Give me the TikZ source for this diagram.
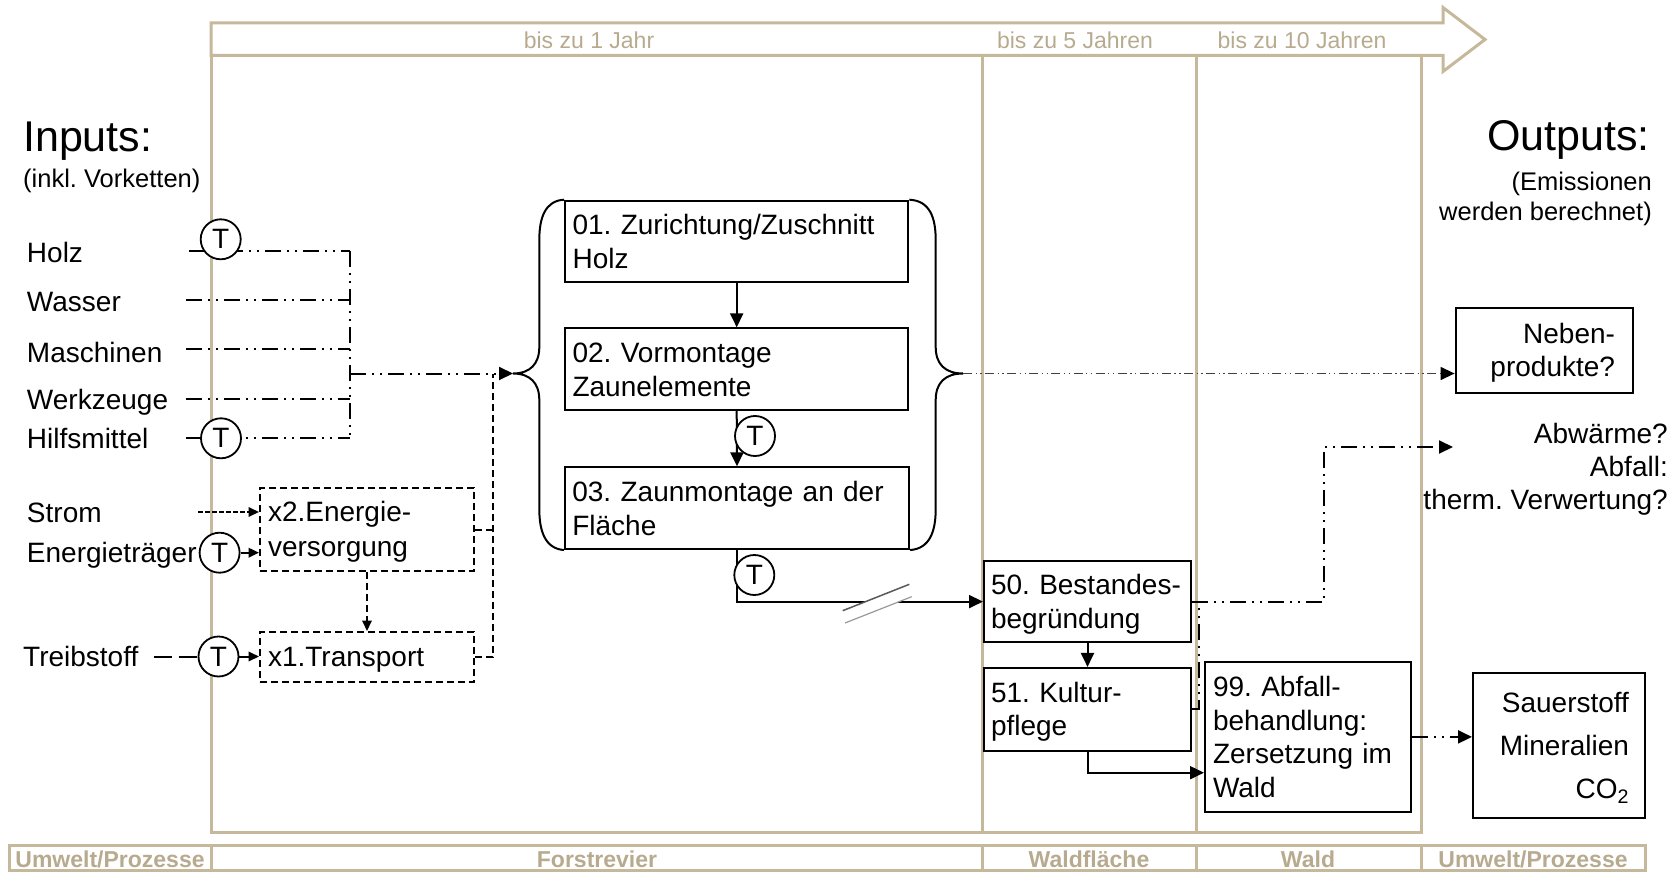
\documentclass[tikz,border=0pt]{standalone}
\usepackage{fontspec}
\setmainfont{Liberation Sans}
\usetikzlibrary{arrows.meta}
\definecolor{tanline}{RGB}{198,184,154}
\definecolor{tantext}{RGB}{184,170,143}
% strut that centres a line on the middle of its capitals
\newcommand\lnstrut{\rule[-0.2em]{0pt}{1.12em}}
% one unbreakable text line
\newcommand\tline[1]{\mbox{\lnstrut #1}}
\frenchspacing

\begin{document}
\begin{tikzpicture}[x=1pt,y=-1pt,
  tanl/.style={draw=tanline, line width=3pt},
  tant/.style={text=tantext, inner sep=0pt, font=\fontsize{23}{27}\selectfont},
  bart/.style={text=tantext, inner sep=0pt, font=\bfseries\fontsize{23}{27}\selectfont},
  lbl/.style={inner sep=0pt, font=\fontsize{28}{33}\selectfont},
  tcirc/.style={circle, draw, line width=1.8pt, fill=white, minimum size=40pt, inner sep=0pt, font=\fontsize{28}{33}\selectfont},
  pbox/.style={draw, line width=2pt, inner xsep=7.5pt, inner ysep=0pt, align=left, font=\fontsize{28}{34}\selectfont},
  rbox/.style={draw, line width=2pt, inner ysep=0pt, align=right},
  dbox/.style={draw, line width=2pt, dash pattern=on 7pt off 4pt, inner xsep=8pt, inner ysep=0pt, align=left, font=\fontsize{28}{35}\selectfont},
  solid2/.style={line width=2pt},
  ddd/.style={line width=2pt, dash pattern=on 16pt off 6pt on 2pt off 6pt on 2pt off 6pt},
  dsh/.style={line width=2pt, dash pattern=on 7pt off 4pt},
  fdsh/.style={line width=1.8pt, dash pattern=on 4.5pt off 2.5pt},
  ldsh/.style={line width=2pt, dash pattern=on 18pt off 7pt},
  nbl/.style={draw=black!75, line width=1.3pt, dash pattern=on 9pt off 3.5pt on 1.3pt off 3.5pt on 1.3pt off 3.5pt},
  arr/.style={-{Triangle[length=14pt,width=13pt,color=black]}},
  sarr/.style={-{Triangle[length=10.5pt,width=9.5pt]}}
]
\useasboundingbox (0,0) rectangle (1674,872);

% ---------- time axis and columns ----------
\draw[tanl, line join=miter] (211,23) -- (1443,23) -- (1443,7.5) -- (1485,39.5)
  -- (1443,71.5) -- (1443,55.5) -- (211,55.5) -- cycle;
\draw[tanl] (211,55.5) -- (211,832) -- (1421,832) -- (1421,55.5);
\draw[tanl] (982.5,55.5) -- (982.5,832);
\draw[tanl] (1196,55.5) -- (1196,832);
\node[tant] (t1) at (589,40) {\lnstrut bis zu 1 Jahr};
\node[tant] (t5) at (1075,40) {\lnstrut bis zu 5 Jahren};
\node[tant] (t10) at (1302,40) {\lnstrut bis zu 10 Jahren};

% ---------- bottom bar ----------
\draw[tanl] (9,845) rectangle (1645,870.5);
\draw[tanl] (211,845) -- (211,870.5);
\draw[tanl] (982.5,845) -- (982.5,870.5);
\draw[tanl] (1196,845) -- (1196,870.5);
\draw[tanl] (1421,845) -- (1421,870.5);
\node[bart] (zA) at (110,859) {\lnstrut Umwelt/Prozesse};
\node[bart] (zB) at (597,859) {\lnstrut Forstrevier};
\node[bart] (zC) at (1089,859) {\lnstrut Waldfläche};
\node[bart] (zD) at (1308,859) {\lnstrut Wald};
\node[bart] (zE) at (1533,859) {\lnstrut Umwelt/Prozesse};

% ---------- headings ----------
\node[lbl, anchor=west, font=\fontsize{43}{50}\selectfont] (inT) at (23,136.5) {\lnstrut Inputs:};
\node[lbl, anchor=west, font=\fontsize{25.5}{30}\selectfont] (inS) at (23,178) {\lnstrut(inkl. Vorketten)};
\node[lbl, anchor=east, font=\fontsize{43}{50}\selectfont] (outT) at (1650,135) {\lnstrut Outputs:};
\node[lbl, anchor=east, align=right, font=\fontsize{25.5}{30}\selectfont] (outS) at (1652,196)
  {\tline{(Emissionen}\\\tline{werden berechnet)}};

% ---------- input labels ----------
\node[lbl, anchor=west] (lHolz) at (26.8,252) {\lnstrut Holz};
\node[lbl, anchor=west] (lWasser) at (26.8,301) {\lnstrut Wasser};
\node[lbl, anchor=west] (lMasch) at (26.8,352) {\lnstrut Maschinen};
\node[lbl, anchor=west] (lWerk) at (26.8,400) {\lnstrut Werkzeuge};
\node[lbl, anchor=west] (lHilf) at (26.8,438.5) {\lnstrut Hilfsmittel};
\node[lbl, anchor=west] (lStrom) at (26.8,512.5) {\lnstrut Strom};
\node[lbl, anchor=west] (lEnerg) at (26.8,553) {\lnstrut Energieträger};
\node[lbl, anchor=west] (lTreib) at (23,656) {\lnstrut Treibstoff};

% ---------- process boxes ----------
\node[pbox, minimum width=343.3pt, minimum height=81.6pt, text width=328.3pt] (b01) at (736.7,241.5)
  {\tline{01. Zurichtung/Zuschnitt}\\\tline{Holz}};
\node[pbox, minimum width=343.3pt, minimum height=81.7pt, text width=328.3pt] (b02) at (736.7,369.2)
  {\tline{02. Vormontage}\\\tline{Zaunelemente}};
\node[pbox, minimum width=344.3pt, minimum height=81.7pt, text width=329.3pt] (b03) at (737,508.2)
  {\tline{03. Zaunmontage an der}\\\tline{Fläche}};

\node[dbox, minimum width=214pt, minimum height=83pt, text width=198pt] (x2) at (367,529.5)
  {\tline{x2.Energie-}\\\tline{versorgung}};
\node[dbox, minimum width=214pt, minimum height=50pt, text width=198pt] (x1) at (367,657)
  {\tline{x1.Transport}};

\node[pbox, inner xsep=7pt, minimum width=207pt, minimum height=80.5pt, text width=193pt,
  font=\fontsize{28}{33.3}\selectfont] (k50) at (1087.5,601.6)
  {\tline{50. Bestandes-}\\\tline{begründung}};
\node[pbox, inner xsep=7pt, minimum width=207pt, minimum height=82.7pt, text width=193pt,
  font=\fontsize{28}{33.3}\selectfont] (k51) at (1087.5,709.3)
  {\tline{51. Kultur-}\\\tline{pflege}};
\node[pbox, inner xsep=8pt, minimum width=206pt, minimum height=149.7pt, text width=190pt,
  font=\fontsize{28}{33.4}\selectfont] (a99) at (1308,736.9)
  {\tline{99. Abfall-}\\\tline{behandlung:}\\\tline{Zersetzung im}\\\tline{Wald}};

% ---------- output boxes and texts ----------
\node[rbox, inner xsep=18pt, minimum width=177.4pt, minimum height=85pt, text width=141.4pt,
  font=\fontsize{28}{33}\selectfont] (nb) at (1544.3,350.5)
  {\tline{Neben-}\\\tline{produkte?}};
\node[rbox, inner xsep=16pt, minimum width=172pt, minimum height=145pt, text width=140pt,
  font=\fontsize{28}{42.6}\selectfont] (sau) at (1559,745.5)
  {\tline{Sauerstoff}\\\tline{Mineralien}\\\tline{CO\textsubscript{2}}};
\node[lbl, anchor=east, align=right, font=\fontsize{28}{33.3}\selectfont] (abwT) at (1668,466.5)
  {\tline{Abwärme?}\\\tline{Abfall:}\\\tline{therm. Verwertung?}};

% ---------- braces round the process group ----------
\coordinate (ltip) at (513,373.5);
\coordinate (rtip) at (963,373.5);
\draw[solid2] (b01.north west) .. controls (545,200.7) and (539.3,218) .. (539.3,240)
  -- (539.3,347) .. controls (539.3,364) and (530,373.5) .. (ltip)
  .. controls (530,373.5) and (539.3,383) .. (539.3,400)
  -- (539.3,509) .. controls (539.3,531) and (545,548.5) .. (b03.south west);
\draw[solid2] (b01.north east) .. controls (930,200.7) and (935.7,218) .. (935.7,240)
  -- (935.7,347) .. controls (935.7,364) and (945,373.5) .. (rtip)
  .. controls (945,373.5) and (935.7,383) .. (935.7,400)
  -- (935.7,509) .. controls (935.7,531) and (930,548.5) .. (b03.south east);

% ---------- input flows ----------
\coordinate (sHolz) at (189,251);
\coordinate (sWasser) at (186,299.5);
\coordinate (sMasch) at (186,349);
\coordinate (sWerk) at (186,399);
\coordinate (sHilf) at (186,438.3);
\coordinate (busT) at (350,251);
\coordinate (busB) at (350,438.3);
\coordinate (busM) at (350,373.5);
\draw[ddd] (sHolz) -- (sHolz -| busT);
\draw[ddd] (sWasser) -- (sWasser -| busT);
\draw[ddd] (sMasch) -- (sMasch -| busT);
\draw[ddd] (sWerk) -- (sWerk -| busT);
\draw[ddd] (sHilf) -- (busB);
\draw[ddd] (busT) -- (busB);
\draw[ddd, arr] (busM) -- (ltip);

\coordinate (sStrom) at (198,512);
\coordinate (sTreib) at (153.5,656.5);
\coordinate (dj) at (492.7,373.5);
\draw[fdsh, sarr] (sStrom) -- (sStrom -| x2.west);
\draw[dsh, sarr] (x2.south) -- (x1.north);
\draw[dsh] (x1.east) -| (dj);
\draw[dsh] (x2.east) -- (x2.east -| dj);

% transport markers on the inputs
\node[tcirc] (tHolz) at (220.7,239.3) {T};
\node[tcirc] (tHilf) at (221,438.3) {T};
\node[tcirc] (tEn) at (219.6,552.7) {T};
\node[tcirc] (tTr) at (218.5,656.5) {T};
\draw[ldsh] (sTreib) -- (tTr.west);
\draw[solid2, sarr] (tEn.east) -- (tEn.east -| x2.west);
\draw[solid2, sarr] (tTr.east) -- (tTr.east -| x1.west);

% ---------- process chain ----------
\draw[solid2, arr] (b01.south) -- (b02.north);
\draw[solid2, arr] (b02.south) -- (b03.north);
\node[tcirc] (tMid) at (755,436) {T};
\draw[solid2, arr] (b03.south) |- (k50.west);
\node[tcirc] (tLow) at (754.3,575) {T};
% break in the connector
\fill[white] (842.7,610.7) -- (909.3,584.3) -- (911.7,596.7) -- (845,623) -- cycle;
\draw[black!65, line width=1.5pt] (842.7,610.7) -- (909.3,584.3);
\draw[black!40, line width=1.2pt] (845,623) -- (911.7,596.7);

\draw[solid2, arr] (k50.south) -- (k51.north);
\coordinate (lowY) at (1000,772.7);
\draw[solid2, arr] (k51.south) |- (a99.west |- lowY);

% ---------- output flows ----------
\draw[nbl, arr] (rtip) -- (rtip -| nb.west);
\coordinate (abwK) at (1324,447);
\coordinate (abwE) at (1453,447);
\coordinate (j51) at (1199,601.6);
\draw[ddd, arr] (k50.east) -| (abwK) -- (abwE);
\draw[ddd] (k51.east) -| (j51);
\draw[ddd, arr] (a99.east) -- (a99.east -| sau.west);
\end{tikzpicture}
\end{document}
